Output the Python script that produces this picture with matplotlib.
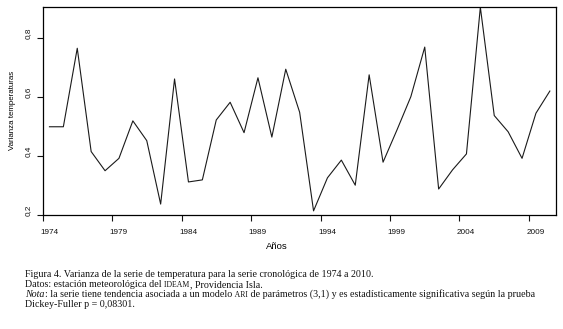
"""Varianza de la serie de temperatura, Providencia Isla, 1974-2010."""

import matplotlib as mpl
import matplotlib.pyplot as plt
import matplotlib.transforms as mtransforms
import numpy as np

years = np.arange(1974, 2011)
variance = [
    0.499, 0.499, 0.765, 0.415, 0.350, 0.392, 0.519, 0.452, 0.237, 0.661,
    0.312, 0.319, 0.522, 0.582, 0.479, 0.665, 0.464, 0.694, 0.548, 0.214,
    0.326, 0.386, 0.301, 0.675, 0.379, 0.488, 0.601, 0.769, 0.288, 0.353,
    0.407, 0.904, 0.537, 0.482, 0.392, 0.545, 0.620,
]
x_ticks = [1974, 1979, 1984, 1989, 1994, 1999, 2004, 2009]
y_ticks = [0.2, 0.4, 0.6, 0.8]
y_tick_labels = ["0,2", "0,4", "0,6", "0,8"]

caption_lines = [
    [("Figura 4. Varianza de la serie de temperatura para la serie cronológica de 1974 a 2010.", "n")],
    [("Datos: estación meteorológica del", "n"), (" IDEAM", "sc"), (", Providencia Isla.", "n")],
    [("Nota", "i"),
     (": la serie tiene tendencia asociada a un modelo", "n"), (" ARI", "sc"),
     (" de parámetros (3,1) y es estadísticamente significativa según la prueba", "n")],
    [("Dickey-Fuller p = 0,08301.", "n")],
]

mpl.rcParams.update({
    "font.family": "sans-serif",
    "font.sans-serif": ["Liberation Sans", "DejaVu Sans"],
    "font.size": 5.9,
})

fig = plt.figure(figsize=(5.63, 3.29), dpi=100)
ax = fig.add_axes([0.0755, 0.3465, 0.912, 0.6315])

# series plotted at mid-year
ax.plot(years + 0.5, variance, color="#1a1a1a", linewidth=0.8)
ax.set_xlim(1974, 2010.94)
ax.set_ylim(0.2, 0.904)
ax.set_xticks(x_ticks)
ax.set_xticklabels([str(v) for v in x_ticks])
ax.set_yticks(y_ticks)
ax.set_yticklabels(y_tick_labels, rotation=90, va="center")
ax.tick_params(axis="x", length=4, width=0.8, pad=6, colors="#111111")
ax.tick_params(axis="y", length=4, width=0.8, pad=3.5, colors="#111111")
for spine in ax.spines.values():
    spine.set_linewidth(0.9)

# labels in the source sit a little off their ticks
shift_x = mtransforms.ScaledTranslation(6.5 / 100, 0, fig.dpi_scale_trans)
shift_y = mtransforms.ScaledTranslation(0, 4.5 / 100, fig.dpi_scale_trans)
for lbl in ax.get_xticklabels():
    lbl.set_transform(lbl.get_transform() + shift_x)
for lbl in ax.get_yticklabels():
    lbl.set_transform(lbl.get_transform() + shift_y)

fig.text(0.492, 0.250, "Años", ha="center", va="center", fontsize=6.8)
fig.text(0.022, 0.663, "Varianza temperaturas", rotation=90, ha="center", va="center",
         fontsize=5.7)

# caption with italic and small-caps pieces, laid out piece by piece
renderer = fig.canvas.get_renderer()
styles = {
    "n": dict(family="Liberation Serif", fontsize=7.2),
    "i": dict(family="Liberation Serif", fontsize=7.2, style="italic"),
    "sc": dict(family="Liberation Serif", fontsize=5.6),
}
baselines = [277.3, 287.2, 297.0, 306.7]
for line, base in zip(caption_lines, baselines):
    x = 25 / 563
    y = 1 - base / 329
    for text, kind in line:
        t = fig.text(x, y, text, va="baseline", ha="left", color="#111111", **styles[kind])
        x += (t.get_window_extent(renderer).width + 0.5) / fig.bbox.width

fig.savefig("out.png", dpi=100)
